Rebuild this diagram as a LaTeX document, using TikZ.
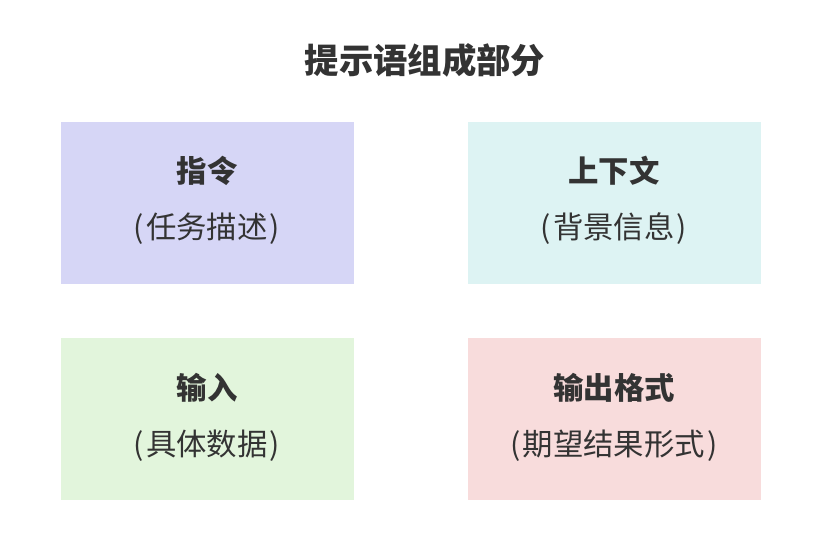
\documentclass[tikz,border=0pt]{standalone}
\usepackage{fontspec}
\setmainfont{Noto Sans CJK SC}
\newfontfamily\cjk{Noto Sans CJK SC}
\definecolor{txt}{HTML}{333333}
\definecolor{cA}{HTML}{D6D6F6}
\definecolor{cB}{HTML}{DDF3F3}
\definecolor{cC}{HTML}{E2F5DC}
\definecolor{cD}{HTML}{F8DCDC}
\newcommand{\lp}{(\hspace{2bp}}
\newcommand{\rp}{\hspace{2bp})}
\begin{document}
\begin{tikzpicture}[x=1bp,y=-1bp,
  panel/.style={minimum width=293bp,minimum height=162bp,inner sep=0pt,anchor=north west,draw=none},
  head/.style={font=\cjk\fontsize{30.5}{34}\selectfont\bfseries,text=txt},
  sub/.style={font=\cjk\fontsize{30.5}{34}\selectfont,text=txt}]
\fill[white] (0,0) rectangle (820,538);
\useasboundingbox (0,0) rectangle (820,538);
\node[font=\cjk\fontsize{34.5}{38}\selectfont\bfseries,text=txt] (title) at (425,60) {提示语组成部分};
\node[panel,fill=cA] (p1) at (61,122) {};
\node[panel,fill=cB] (p2) at (468,122) {};
\node[panel,fill=cC] (p3) at (61,338) {};
\node[panel,fill=cD] (p4) at (468,338) {};
\node[head] (h1) at (207,171) {指令};
\node[sub] (s1) at (207,229) {\lp 任务描述\rp};
\node[head] (h2) at (614,171) {上下文};
\node[sub] (s2) at (614,229) {\lp 背景信息\rp};
\node[head] (h3) at (207,388) {输入};
\node[sub] (s3) at (207,446) {\lp 具体数据\rp};
\node[head] (h4) at (614,388) {输出格式};
\node[sub] (s4) at (614,446) {\lp 期望结果形式\rp};
\end{tikzpicture}
\end{document}
